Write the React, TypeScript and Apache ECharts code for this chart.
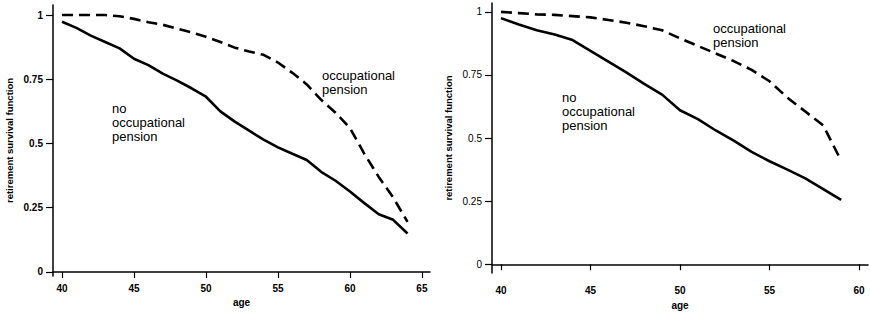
import React, { useEffect, useRef } from "react";
import * as echarts from "echarts";

// Left panel
const leftAges = [40, 41, 42, 43, 44, 45, 46, 47, 48, 49, 50, 51, 52, 53, 54, 55, 56, 57, 58, 59, 60, 61, 62, 63, 64];
const leftNoOccupational = [0.974, 0.95, 0.92, 0.895, 0.87, 0.83, 0.805, 0.772, 0.745, 0.715, 0.682, 0.625, 0.585, 0.55, 0.515, 0.485, 0.46, 0.436, 0.39, 0.355, 0.313, 0.268, 0.225, 0.203, 0.15];
const leftOccupational = [1.0, 1.0, 1.0, 1.0, 0.995, 0.985, 0.972, 0.962, 0.947, 0.932, 0.915, 0.895, 0.873, 0.858, 0.845, 0.815, 0.775, 0.73, 0.67, 0.62, 0.56, 0.46, 0.37, 0.29, 0.195];
const leftXTicks = [40, 45, 50, 55, 60, 65];

// Right panel
const rightAges = [40, 41, 42, 43, 44, 45, 46, 47, 48, 49, 50, 51, 52, 53, 54, 55, 56, 57, 58, 59];
const rightNoOccupational = [0.975, 0.95, 0.927, 0.91, 0.888, 0.845, 0.803, 0.76, 0.715, 0.672, 0.61, 0.575, 0.53, 0.49, 0.445, 0.408, 0.375, 0.34, 0.298, 0.255];
const rightOccupational = [1.0, 0.995, 0.99, 0.988, 0.983, 0.978, 0.968, 0.957, 0.943, 0.927, 0.895, 0.865, 0.835, 0.805, 0.77, 0.725, 0.66, 0.605, 0.55, 0.41];
const rightXTicks = [40, 45, 50, 55, 60];

const yTicks = [0, 0.25, 0.5, 0.75, 1];
const yTitle = "retirement survival function";
const xTitle = "age";

const FONT = "'Liberation Sans', Arial, Helvetica, sans-serif";

function pairs(xs: number[], ys: number[]) {
  return xs.map((x, i) => [x, ys[i]]);
}

function fmtY(v: number) {
  return String(v);
}

export default function App() {
  const ref = useRef<HTMLDivElement>(null);
  useEffect(() => {
    if (!ref.current) return;
    const chart = echarts.init(ref.current, undefined, { renderer: "svg" });
    const axisLine = { show: true, lineStyle: { color: "#000", width: 1.5 } };
    const axisTick = (vals: number[]) => ({
      show: true,
      inside: false,
      length: 6,
      lineStyle: { color: "#000", width: 1.2 },
      customValues: vals,
    });
    const xAxisBase = (gridIndex: number, min: number, max: number, ticks: number[], margin: number, nameGap: number) => ({
      type: "value",
      gridIndex,
      min,
      max,
      axisLine,
      axisTick: axisTick(ticks),
      axisLabel: {
        customValues: ticks,
        color: "#000",
        fontFamily: FONT,
        fontSize: 10,
        fontWeight: "bold",
        margin,
      },
      splitLine: { show: false },
      name: xTitle,
      nameLocation: "middle",
      nameGap,
      nameTextStyle: { color: "#000", fontFamily: FONT, fontSize: 10, fontWeight: "bold" },
    });
    const yAxisBase = (gridIndex: number, min: number, max: number, bold: boolean, nameGap: number) => ({
      type: "value",
      gridIndex,
      min,
      max,
      axisLine,
      axisTick: { ...axisTick(yTicks), length: 7 },
      axisLabel: {
        customValues: yTicks,
        formatter: fmtY,
        color: "#000",
        fontFamily: FONT,
        fontSize: 10,
        fontWeight: bold ? "bold" : "normal",
        margin: 10,
      },
      splitLine: { show: false },
      name: yTitle,
      nameLocation: "middle",
      nameGap,
      nameTextStyle: { color: "#000", fontFamily: FONT, fontSize: 9.5, fontWeight: "bold" },
    });
    const solid = { color: "#000", width: 2.6, type: "solid" };
    const dashed = { color: "#000", width: 2.6, type: [11, 6] };
    const annot = (x: number, y: number, text: string) => ({
      type: "text",
      x,
      y,
      style: {
        text,
        fill: "#000",
        font: `13px ${FONT}`,
        lineHeight: 14,
        verticalAlign: "top",
        align: "left",
      },
    });
    chart.setOption({
      animation: false,
      backgroundColor: "#fff",
      grid: [
        { left: 53, top: 5, width: 377, height: 271, containLabel: false },
        { left: 492, top: 3, width: 376, height: 274, containLabel: false },
      ],
      xAxis: [
        xAxisBase(0, 39.375, 65.56, leftXTicks, 7, 18),
        xAxisBase(1, 39.5, 60.5, rightXTicks, 12, 25),
      ],
      yAxis: [
        yAxisBase(0, -0.0156, 1.039, true, 39),
        yAxisBase(1, -0.035, 1.035, false, 39),
      ],
      series: [
        {
          type: "line",
          name: "no occupational pension",
          xAxisIndex: 0,
          yAxisIndex: 0,
          data: pairs(leftAges, leftNoOccupational),
          showSymbol: false,
          lineStyle: solid,
        },
        {
          type: "line",
          name: "occupational pension",
          xAxisIndex: 0,
          yAxisIndex: 0,
          data: pairs(leftAges, leftOccupational),
          showSymbol: false,
          lineStyle: dashed,
        },
        {
          type: "line",
          name: "no occupational pension",
          xAxisIndex: 1,
          yAxisIndex: 1,
          data: pairs(rightAges, rightNoOccupational),
          showSymbol: false,
          lineStyle: solid,
        },
        {
          type: "line",
          name: "occupational pension",
          xAxisIndex: 1,
          yAxisIndex: 1,
          data: pairs(rightAges, rightOccupational),
          showSymbol: false,
          lineStyle: dashed,
        },
      ],
      graphic: [
        annot(322, 68, "occupational\npension"),
        annot(112, 101, "no\noccupational\npension"),
        annot(713, 21, "occupational\npension"),
        annot(562, 90, "no\noccupational\npension"),
      ],
    });
    return () => chart.dispose();
  }, []);
  return (
    <div
      ref={ref}
      style={{ position: "absolute", left: 0, top: 0, width: 870, height: 315, background: "#fff" }}
    />
  );
}
